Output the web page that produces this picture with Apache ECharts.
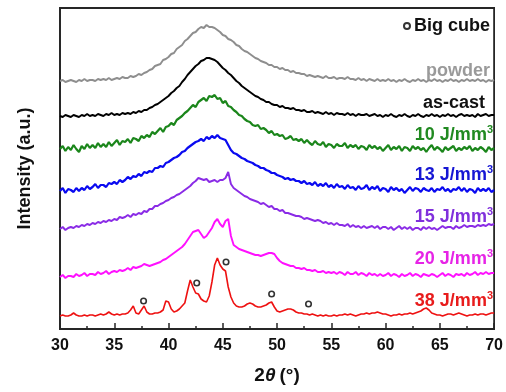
<!DOCTYPE html>
<html>
<head>
<meta charset="utf-8">
<script src="https://cdn.jsdelivr.net/npm/echarts@6/dist/echarts.min.js"></script>
<style>
  html, body { margin: 0; padding: 0; background: #fff; }
  #chart { width: 506px; height: 392px; }
</style>
</head>
<body>
<div id="chart"></div>
<script>
// XRD scans, 2θ from 30° to 70° in 0.25° steps; intensities are offset per sample (a.u.)
const scanStart = 30;
const scanStep = 0.25;

const powder = [
  248, 249, 247, 248,  249, 248, 247, 249,  248, 250, 248, 249,  249, 248, 250, 249,
  250, 249, 251, 249,  250, 251, 250, 252,  251, 251, 253, 252,  253, 255, 254, 256,
  257, 259, 260, 263,  264, 265, 269, 270,  272, 275, 276, 280,  282, 284, 288, 290,
  293, 296, 297, 300,  302, 301, 304, 302,  302, 301, 299, 297,  294, 293, 290, 289,
  287, 284, 283, 280,  278, 277, 275, 273,  271, 270, 268, 267,  266, 264, 264, 262,
  262, 260, 261, 259,  259, 257, 258, 256,  256, 255, 255, 253,  254, 253, 252, 253,
  252, 251, 253, 251,  251, 252, 250, 251,  251, 250, 252, 250,  250, 249, 251, 249,
  250, 248, 250, 249,  248, 250, 248, 249,  248, 250, 248, 249,  247, 249, 248, 250,
  248, 247, 249, 248,  250, 248, 249, 247,  249, 248, 250, 248,  249, 247, 249, 248,
  250, 248, 249, 247,  249, 248, 250, 248,  249, 248, 250, 248,  249, 247, 249, 248,
  249
];

const asCast = [
  213, 212, 214, 213,  212, 214, 213, 212,  214, 213, 215, 213,  214, 213, 215, 214,
  213, 215, 214, 216,  214, 215, 214, 216,  215, 216, 215, 217,  216, 218, 217, 219,
  219, 221, 222, 224,  225, 227, 229, 231,  233, 236, 238, 241,  243, 247, 250, 254,
  257, 260, 263, 265,  268, 269, 271, 271,  270, 269, 267, 264,  261, 259, 256, 254,
  251, 248, 246, 243,  241, 239, 237, 235,  233, 232, 230, 229,  227, 227, 225, 224,
  224, 222, 223, 221,  221, 220, 221, 219,  219, 218, 219, 217,  217, 218, 216, 217,
  216, 215, 217, 215,  216, 214, 216, 215,  215, 214, 216, 214,  215, 213, 215, 214,
  214, 215, 213, 214,  215, 213, 214, 212,  214, 213, 215, 213,  212, 214, 213, 215,
  213, 212, 214, 213,  215, 213, 212, 214,  213, 215, 213, 214,  212, 214, 213, 215,
  213, 214, 212, 214,  215, 213, 214, 213,  214, 212, 215, 213,  214, 215, 213, 214,
  214
];

const ved10 = [
  180, 183, 178, 182,  179, 184, 180, 177,  183, 180, 185, 181,  184, 181, 186, 182,
  185, 182, 187, 183,  186, 189, 184, 188,  187, 190, 186, 191,  190, 188, 193, 191,
  194, 192, 197, 195,  198, 201, 197, 202,  203, 206, 204, 209,  211, 213, 216, 218,
  221, 224, 222, 227,  229, 231, 228, 233,  232, 234, 230, 231,  226, 228, 223, 222,
  219, 217, 214, 213,  210, 208, 207, 204,  203, 204, 200, 201,  199, 196, 198, 194,
  195, 193, 194, 190,  191, 193, 189, 190,  188, 190, 186, 189,  186, 184, 188, 185,
  184, 187, 182, 185,  184, 181, 185, 183,  183, 186, 181, 184,  182, 184, 180, 183,
  182, 179, 184, 181,  183, 180, 182, 178,  181, 184, 179, 182,  180, 183, 178, 182,
  181, 178, 183, 180,  182, 179, 181, 177,  181, 184, 179, 182,  180, 177, 182, 179,
  181, 183, 178, 181,  179, 182, 180, 183,  178, 181, 179, 182,  180, 177, 182, 179,
  181
];

const ved13 = [
  138, 141, 136, 140,  139, 137, 141, 138,  141, 139, 143, 140,  142, 145, 141, 144,
  144, 142, 146, 145,  147, 145, 149, 147,  149, 152, 150, 153,  152, 155, 153, 157,
  156, 158, 157, 161,  161, 163, 162, 166,  167, 169, 171, 172,  174, 177, 178, 181,
  183, 185, 187, 188,  190, 188, 192, 190,  193, 191, 194, 191,  190, 189, 184, 179,
  176, 175, 173, 171,  170, 168, 167, 166,  164, 163, 161, 161,  159, 158, 156, 156,
  154, 153, 152, 150,  151, 149, 150, 148,  148, 146, 148, 145,  146, 144, 147, 143,
  145, 143, 146, 142,  144, 141, 145, 142,  143, 140, 144, 141,  142, 139, 143, 140,
  141, 144, 139, 142,  140, 143, 138, 141,  140, 137, 142, 139,  141, 138, 140, 136,
  139, 142, 138, 141,  140, 137, 141, 139,  138, 141, 137, 140,  139, 142, 138, 140,
  137, 140, 139, 142,  138, 141, 137, 140,  139, 136, 141, 138,  140, 138, 141, 137,
  139
];

const ved15 = [
  100, 102,  99, 101,  102, 101, 103, 102,  104, 103, 105, 104,  106, 105, 107, 106,
  108, 107, 109, 108,  110, 109, 112, 111,  112, 114, 112, 115,  114, 116, 115, 118,
  117, 120, 120, 123,  123, 125, 126, 128,  129, 131, 132, 134,  135, 137, 139, 141,
  143, 146, 148, 151,  150, 149, 150, 147,  148, 149, 147, 149,  149, 151, 157, 145,
  141, 139, 137, 135,  133, 132, 130, 129,  128, 127, 125, 126,  124, 122, 123, 120,
  120, 118, 119, 116,  116, 115, 114, 113,  113, 112, 110, 111,  110, 109, 108, 109,
  108, 106, 107, 105,  106, 104, 106, 104,  104, 103, 105, 102,  104, 102, 103, 101,
  103, 101, 102, 103,  101, 103, 100, 102,  102, 100, 102,  99,  101, 103, 100, 102,
  100, 102,  99, 101,  101,  99, 102, 100,  102, 100, 101,  99,  101, 103, 101, 102,
  102, 100, 103, 101,  102, 104, 102, 103,  103, 102, 104, 103,  104, 103, 105, 104,
  105
];

const ved20 = [
   52,  54,  51,  53,   53,  52,  55,  53,   54,  56,  53,  55,   55,  54,  57,  55,
   56,  58,  55,  57,   58,  57,  59,  58,   59,  61,  59,  62,   61,  62,  63,  65,
   64,  63,  64,  65,   66,  67,  69,  70,   72,  74,  76,  78,   80,  82,  85,  89,
   93,  97,  98,  99,   95,  91,  93,  97,  101, 107, 110, 105,  102, 108, 110,  93,
   84,  82,  80,  79,   78,  77,  76,  75,   74,  74,  73,  74,   75,  76,  76,  75,
   71,  68,  66,  65,   64,  63,  63,  61,   61,  60,  61,  59,   59,  58,  59,  57,
   57,  58,  56,  57,   56,  57,  55,  57,   56,  54,  57,  55,   55,  57,  54,  56,
   55,  53,  56,  54,   55,  53,  55,  53,   54,  56,  53,  55,   54,  52,  55,  53,
   54,  56,  53,  55,   54,  52,  55,  54,   53,  55,  54,  52,   54,  56,  53,  55,
   54,  52,  55,  54,   55,  53,  56,  54,   55,  57,  54,  56,   55,  57,  55,  56,
   56
];

const ved38 = [
   13,  14,  13,  13,   14,  16,  14,  13,   13,  14,  13,  14,   14,  13,  14,  15,
   14,  15,  17,  15,   14,  15,  14,  15,   15,  16,  19,  23,   16,  15,  19,  23,
   17,  15,  15,  16,   16,  17,  19,  28,   27,  20,  17,  18,   20,  23,  26,  38,
   49,  42,  36,  35,   30,  28,  27,  33,   47,  64,  71,  64,   60,  58,  42,  32,
   26,  23,  22,  22,   23,  25,  26,  25,   23,  22,  22,  23,   24,  26,  27,  22,
   18,  17,  18,  19,   20,  20,  19,  17,   16,  16,  15,  15,   14,  15,  14,  13,
   14,  13,  14,  13,   13,  14,  13,  14,   14,  15,  14,  15,   14,  13,  14,  15,
   15,  16,  15,  16,   16,  17,  16,  15,   15,  14,  13,  14,   14,  15,  14,  15,
   15,  16,  15,  16,   17,  18,  20,  21,   19,  16,  15,  14,   14,  13,  14,  15,
   15,  14,  15,  16,   15,  14,  13,  14,   14,  15,  14,  15,   15,  14,  15,  16,
   16
];

// "Big cube" phase reflections marked on the 38 J/mm³ scan
const cubeAngles = [37.7, 42.6, 45.3, 49.5, 52.9];
const cubeLevels = [28, 46, 67, 35, 25];

const sampleNames = ['powder', 'as-cast', '10 J/mm³', '13 J/mm³', '15 J/mm³', '20 J/mm³', '38 J/mm³'];
// curve labels drawn at the right end; energy densities carry a raised "3"
const labelText = ['powder', 'as-cast', '{n|10 J/mm}{s|3}', '{n|13 J/mm}{s|3}', '{n|15 J/mm}{s|3}', '{n|20 J/mm}{s|3}', '{n|38 J/mm}{s|3}'];
const sampleColors = ['#8e8e8e', '#000000', '#1b861b', '#0a0af0', '#8a2be6', '#ff10ff', '#ee1111'];
const lineWidths = [1.9, 1.9, 2.2, 2.2, 1.9, 1.9, 1.6];
const labelColors = ['#9a9a9a', '#111111', '#218a21', '#1616d4', '#8030dc', '#e624e6', '#e81c1c'];
const labelY = [71, 103, 135, 175, 217, 259, 301];
const labelRight = [490, 485, 493, 493, 493, 493, 493];

const xTicks = { min: 30, max: 70, interval: 5 };

const FONT = "'Liberation Sans', Arial, Helvetica, sans-serif";
const scans = [powder, asCast, ved10, ved13, ved15, ved20, ved38];

const toPairs = arr => arr.map((v, i) => [scanStart + i * scanStep, v]);

const series = scans.map((arr, k) => ({
  name: sampleNames[k],
  type: 'line',
  data: toPairs(arr),
  showSymbol: false,
  silent: true,
  lineStyle: { color: sampleColors[k], width: lineWidths[k] },
  z: 2
}));

series.push({
  name: 'Big cube',
  type: 'scatter',
  data: cubeAngles.map((a, i) => [a, cubeLevels[i]]),
  symbol: 'circle',
  symbolSize: 5.5,
  itemStyle: { color: '#ffffff', borderColor: '#000000', borderWidth: 1.6 },
  z: 5
});

const chart = echarts.init(document.getElementById('chart'), null, { renderer: 'canvas' });

chart.setOption({
  animation: false,
  backgroundColor: '#ffffff',
  grid: {
    left: 60, right: 11, top: 8, bottom: 63,
    show: true, borderColor: '#262626', borderWidth: 1.8, backgroundColor: 'transparent'
  },
  legend: {
    data: ['Big cube'],
    right: 11, top: 12,
    itemWidth: 6, itemHeight: 6, itemGap: 4,
    icon: 'circle',
    textStyle: { fontFamily: FONT, fontWeight: 'bold', fontSize: 18, color: '#111', padding: [0, 0, 0, -1] }
  },
  xAxis: {
    type: 'value',
    min: xTicks.min, max: xTicks.max, interval: xTicks.interval,
    axisLine: { show: true, lineStyle: { color: '#262626', width: 1.8 } },
    axisTick: { show: true, inside: true, length: 6, lineStyle: { color: '#262626', width: 1.5 } },
    minorTick: { show: true, splitNumber: 2, length: 3, lineStyle: { color: '#262626', width: 1.5 } },
    splitLine: { show: false },
    axisLabel: { fontFamily: FONT, fontWeight: 'bold', fontSize: 16, color: '#111', margin: 9 },
    name: '{b|2}{i|θ}{b|(°)}',
    nameLocation: 'middle',
    nameGap: 37,
    nameTextStyle: {
      rich: {
        b: { fontFamily: FONT, fontWeight: 'bold', fontSize: 19, color: '#111' },
        i: { fontFamily: FONT, fontWeight: 'bold', fontStyle: 'italic', fontSize: 19, color: '#111', padding: [0, 4, 0, 0] }
      }
    }
  },
  yAxis: {
    type: 'value',
    min: 0, max: 321,
    axisLine: { show: true, lineStyle: { color: '#262626', width: 1.8 } },
    axisTick: { show: false },
    axisLabel: { show: false },
    splitLine: { show: false },
    name: 'Intensity (a.u.)',
    nameLocation: 'middle',
    nameGap: 26,
    nameTextStyle: { fontFamily: FONT, fontWeight: 'bold', fontSize: 18, color: '#111' }
  },
  graphic: labelText.map((t, k) => ({
    type: 'text',
    x: labelRight[k],
    y: labelY[k],
    z: 10,
    style: {
      text: t,
      align: 'right',
      verticalAlign: 'middle',
      fontFamily: FONT,
      fontWeight: 'bold',
      fontSize: 18,
      fill: labelColors[k],
      rich: {
        n: { fontFamily: FONT, fontWeight: 'bold', fontSize: 18, lineHeight: 22, fill: labelColors[k] },
        s: { fontFamily: FONT, fontWeight: 'bold', fontSize: 11, lineHeight: 11, verticalAlign: 'top', fill: labelColors[k] }
      }
    }
  })),
  series: series
});
</script>
</body>
</html>
